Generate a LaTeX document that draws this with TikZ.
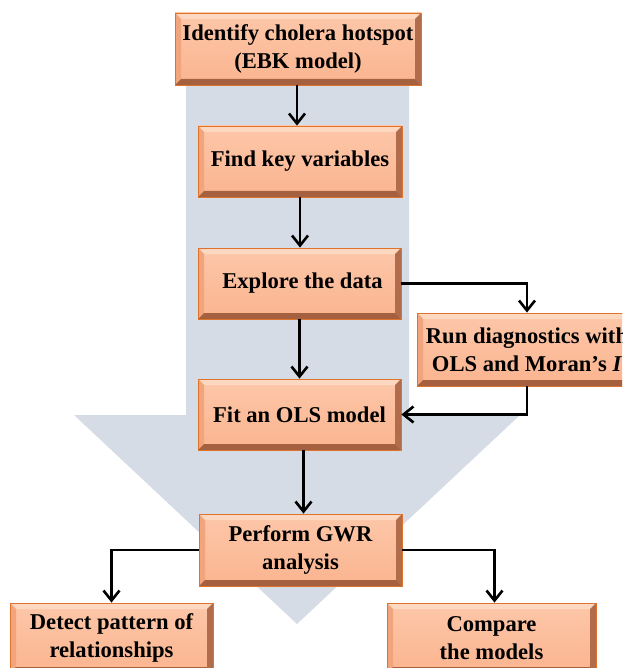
\documentclass[tikz,border=0pt]{standalone}
\usepackage{fontspec}
\setmainfont{Liberation Serif}
\usetikzlibrary{arrows.meta,calc}
\definecolor{bigarrow}{HTML}{D6DCE5}
\definecolor{boxedge}{HTML}{E0732C}
\definecolor{boxtop}{HTML}{FCC7A9}
\definecolor{boxbot}{HTML}{FBB48F}
\definecolor{bevlight}{HTML}{FDD8C0}
\definecolor{bevleft}{HTML}{F2A47C}
\definecolor{bevright}{HTML}{B06C4B}
\definecolor{bevbot}{HTML}{A5603F}
\tikzset{
  stepbox/.style={draw=boxedge, line width=0.8pt, top color=boxtop, bottom color=boxbot,
    inner sep=0pt, align=center, text=black,
    font=\fontsize{22.6}{28}\selectfont\bfseries,
    path picture={
      \coordinate (nw) at (path picture bounding box.north west);
      \coordinate (ne) at (path picture bounding box.north east);
      \coordinate (sw) at (path picture bounding box.south west);
      \coordinate (se) at (path picture bounding box.south east);
      \fill[bevlight] (nw) -- (ne) -- ([xshift=-6pt,yshift=-6pt]ne) -- ([xshift=6pt,yshift=-6pt]nw) -- cycle;
      \fill[bevleft] (nw) -- (sw) -- ([xshift=6pt,yshift=6pt]sw) -- ([xshift=6pt,yshift=-6pt]nw) -- cycle;
      \fill[bevright] (ne) -- (se) -- ([xshift=-6pt,yshift=6pt]se) -- ([xshift=-6pt,yshift=-6pt]ne) -- cycle;
      \fill[bevbot] (sw) -- (se) -- ([xshift=-6pt,yshift=6pt]se) -- ([xshift=6pt,yshift=6pt]sw) -- cycle;
    }},
  flow/.style={draw=black, line width=2.6pt, -{Straight Barb[length=10pt,width=16pt,line width=2.6pt]}}
}
\begin{document}
\begin{tikzpicture}[x=1pt,y=-1pt]
\useasboundingbox (0,0) rectangle (622,668);
\clip (0,0) rectangle (622,668);
% big background arrow
\fill[bigarrow] (186,70) -- (409,70) -- (409,415) -- (520,415) -- (297,624) -- (74,415) -- (186,415) -- cycle;
% nodes
\node[stepbox, minimum width=246pt, minimum height=72pt] (top) at (298,49) {Identify cholera hotspot\\(EBK model)};
\node[stepbox, minimum width=204pt, minimum height=71pt] (find) at (300,161.5) {Find key variables};
\node[stepbox, minimum width=203pt, minimum height=71pt] (explore) at (299.5,283.5) {\hspace*{6pt}Explore the data};
\node[stepbox, minimum width=220pt, minimum height=73pt] (run) at (527,349.5) {Run diagnostics with\\OLS and Moran’s \textit{I}};
\node[stepbox, minimum width=203pt, minimum height=71pt] (fit) at (299.5,414.5) {Fit an OLS model};
\node[stepbox, minimum width=203pt, minimum height=72pt] (gwr) at (300.5,550) {Perform GWR\\analysis};
\node[stepbox, minimum width=203pt, minimum height=70pt] (detect) at (111.5,638) {Detect pattern of\\relationships};
\node[stepbox, minimum width=209pt, minimum height=70pt] (compare) at (491.5,638) {Compare\\the models};
% connectors
\draw[flow] ([xshift=-1pt]top.south) -- ([xshift=-1pt]top.south |- find.north);
\draw[flow] (find.south) -- (find.south |- explore.north);
\draw[flow] (explore.south) -- (explore.south |- fit.north);
\draw[flow] ([xshift=4pt]fit.south) -- ([xshift=4pt]fit.south |- gwr.north);
\draw[flow] (explore.east) -| (run.north);
\draw[flow] (run.south) |- (fit.east);
\draw[flow] (gwr.west) -| (detect.north);
\draw[flow] (gwr.east) -| ([xshift=3pt]compare.north);
\end{tikzpicture}
\end{document}
